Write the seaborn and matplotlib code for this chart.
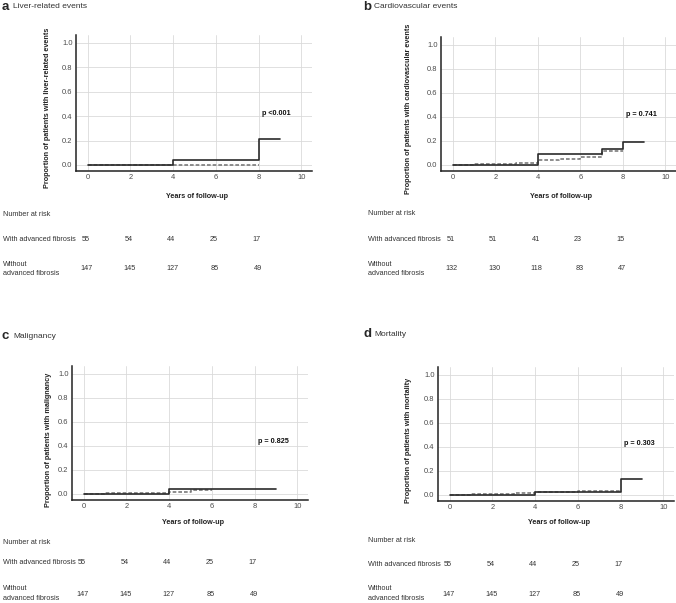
import matplotlib.pyplot as plt
import matplotlib.transforms as mtransforms
import pandas as pd
import seaborn as sns

# Step curves (years, cumulative proportion)
liver_adv_t = [0, 4, 8, 9]
liver_adv_y = [0.0, 0.043, 0.213, 0.213]
liver_no_t = [0, 8]
liver_no_y = [0.0, 0.0]

cardio_adv_t = [0, 4, 7, 8, 9]
cardio_adv_y = [0.0, 0.093, 0.134, 0.194, 0.194]
cardio_no_t = [0, 1, 3, 4, 5, 6, 7, 8]
cardio_no_y = [0.0, 0.006, 0.014, 0.038, 0.049, 0.063, 0.12, 0.12]

malig_adv_t = [0, 4, 9]
malig_adv_y = [0.0, 0.043, 0.043]
malig_no_t = [0, 1, 4, 5, 6]
malig_no_y = [0.0, 0.006, 0.019, 0.033, 0.033]

mort_adv_t = [0, 4, 8, 9]
mort_adv_y = [0.0, 0.022, 0.137, 0.137]
mort_no_t = [0, 1, 3, 4, 6, 8]
mort_no_y = [0.0, 0.011, 0.019, 0.022, 0.031, 0.031]

# Number at risk
risk_years = [0, 2, 4, 6, 8]
liver_risk_adv = [55, 54, 44, 25, 17]
liver_risk_no = [147, 145, 127, 85, 49]
cardio_risk_adv = [51, 51, 41, 23, 15]
cardio_risk_no = [132, 130, 118, 83, 47]
malig_risk_adv = [55, 54, 44, 25, 17]
malig_risk_no = [147, 145, 127, 85, 49]
mort_risk_adv = [55, 54, 44, 25, 17]
mort_risk_no = [147, 145, 127, 85, 49]

letters = ['a', 'b', 'c', 'd']
titles = ['Liver-related events', 'Cardiovascular events', 'Malignancy', 'Mortality']
ylabels = ['Proportion of patients with liver-related events',
           'Proportion of patients with cardiovascular events',
           'Proportion of patients with malignancy',
           'Proportion of patients with mortality']
pvalues = ['p <0.001', 'p = 0.741', 'p = 0.825', 'p = 0.303']

curves = [
    (liver_adv_t, liver_adv_y, liver_no_t, liver_no_y),
    (cardio_adv_t, cardio_adv_y, cardio_no_t, cardio_no_y),
    (malig_adv_t, malig_adv_y, malig_no_t, malig_no_y),
    (mort_adv_t, mort_adv_y, mort_no_t, mort_no_y),
]
risks = [
    (liver_risk_adv, liver_risk_no),
    (cardio_risk_adv, cardio_risk_no),
    (malig_risk_adv, malig_risk_no),
    (mort_risk_adv, mort_risk_no),
]

# Layout in pixels: axes box (l, t, r, b), text x origin, row y positions
W, H = 676, 603
layout = [
    dict(ax=(76, 35, 312, 171), tx=2, ty=7, lx=3, ylab=(48, 108),
         xlab=197, nar=215, row1=239, row2=268, w1=265, w2=274, py=0.42),
    dict(ax=(441, 37, 676, 171), tx=363, ty=7, lx=368, ylab=(408, 109),
         xlab=197, nar=214, row1=239, row2=268, w1=264, w2=274, py=0.42),
    dict(ax=(72, 366, 308, 500), tx=2, ty=336, lx=3, ylab=(49, 440),
         xlab=523, nar=542, row1=563, row2=594, w1=589, w2=598, py=0.44),
    dict(ax=(438, 367, 674, 501), tx=363, ty=334, lx=368, ylab=(409, 440),
         xlab=523, nar=540, row1=564, row2=594, w1=589, w2=598, py=0.43),
]

sns.set_style('whitegrid')
plt.rcParams['font.family'] = ['Liberation Sans', 'DejaVu Sans']

fig = plt.figure(figsize=(W / 100, H / 100), dpi=100)
text_col = '#333333'
fs_table = 5.2

for i in range(4):
    lay = layout[i]
    l, t, r, b = lay['ax']
    ax = fig.add_axes([l / W, 1 - b / H, (r - l) / W, (b - t) / H])

    adv_t, adv_y, no_t, no_y = curves[i]
    df = pd.concat([
        pd.DataFrame({'time': no_t, 'prop': no_y, 'group': 'no'}),
        pd.DataFrame({'time': adv_t, 'prop': adv_y, 'group': 'adv'}),
    ])
    sns.lineplot(data=df, x='time', y='prop', hue='group', style='group',
                 hue_order=['no', 'adv'], style_order=['no', 'adv'],
                 palette={'no': '#7a7a7a', 'adv': '#2b2b2b'},
                 dashes={'no': (2.2, 1.2), 'adv': ''},
                 estimator=None, drawstyle='steps-post', linewidth=1.2,
                 legend=False, ax=ax)

    ax.set_xlim(-0.55, 10.5)
    ax.set_ylim(-0.05, 1.065)
    ax.set_xticks(range(0, 11, 2))
    ax.set_yticks([0, 0.2, 0.4, 0.6, 0.8, 1.0])
    ax.set_yticklabels(['0.0', '0.2', '0.4', '0.6', '0.8', '1.0'])
    ax.tick_params(length=0, labelsize=5.4, labelcolor='#4a4a4a', pad=2.5)
    ax.grid(True, color='#dadada', linewidth=0.6)
    for s in ['top', 'right']:
        ax.spines[s].set_visible(False)
    for s in ['left', 'bottom']:
        ax.spines[s].set_color('#222222')
        ax.spines[s].set_linewidth(1.1)
    ax.set_xlabel('')
    ax.set_ylabel('')

    ax.text(8.15, lay['py'], pvalues[i], fontsize=5.2, fontweight='bold',
            color='#111111', ha='left', va='center')

    # titles
    fig.text(lay['tx'] / W, 1 - lay['ty'] / H, letters[i], fontsize=9.5,
             fontweight='bold', ha='left', va='center')
    fig.text((lay['tx'] + 11) / W, 1 - lay['ty'] / H, titles[i],
             fontsize=6.0, color=text_col, ha='left', va='center')

    # axis labels
    fig.text(lay['ylab'][0] / W, 1 - lay['ylab'][1] / H, ylabels[i],
             rotation=90, fontsize=5.2, fontweight='bold', color='#222222',
             ha='center', va='center')
    fig.text((l + r) / 2 / W + 0.004, 1 - lay['xlab'] / H, 'Years of follow-up',
             fontsize=5.2, fontweight='bold', color='#222222',
             ha='center', va='center')

    # number at risk table
    lx = lay['lx'] / W
    fig.text(lx, 1 - lay['nar'] / H, 'Number at risk', fontsize=fs_table,
             color=text_col, ha='left', va='center')
    fig.text(lx, 1 - lay['row1'] / H, 'With advanced fibrosis', fontsize=fs_table,
             color=text_col, ha='left', va='center')
    fig.text(lx, 1 - lay['w1'] / H, 'Without', fontsize=fs_table,
             color=text_col, ha='left', va='center')
    fig.text(lx, 1 - lay['w2'] / H, 'advanced fibrosis', fontsize=fs_table,
             color=text_col, ha='left', va='center')

    trans = mtransforms.blended_transform_factory(ax.transData, fig.transFigure)
    adv_n, no_n = risks[i]
    for yr, n1, n2 in zip(risk_years, adv_n, no_n):
        fig.text(yr - 0.1, 1 - lay['row1'] / H, str(n1), transform=trans,
                 fontsize=fs_table, color=text_col, ha='center', va='center')
        fig.text(yr - 0.05, 1 - lay['row2'] / H, str(n2), transform=trans,
                 fontsize=fs_table, color=text_col, ha='center', va='center')

fig.savefig('out.png', dpi=100)
